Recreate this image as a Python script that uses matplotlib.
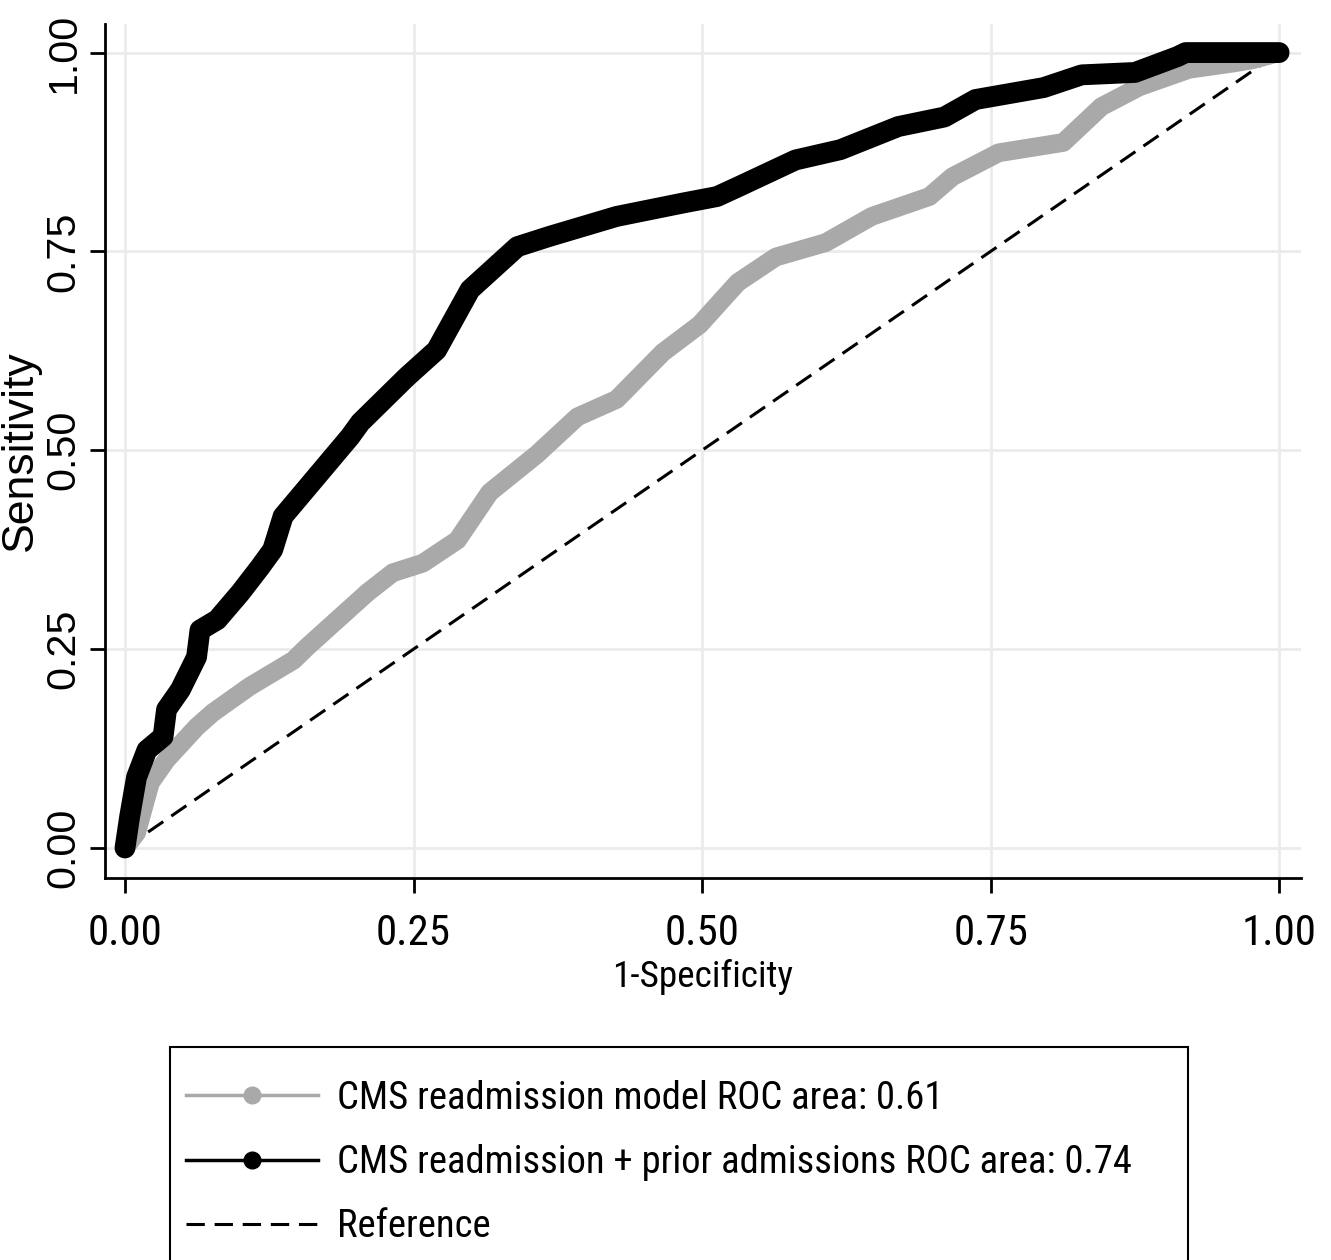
import matplotlib
matplotlib.use("Agg")
import matplotlib.pyplot as plt
from matplotlib import font_manager as fm
from matplotlib.font_manager import FontProperties
from matplotlib.lines import Line2D
from matplotlib.patches import Rectangle

# ROC curve points (1-specificity, sensitivity)
cms_fpr = [0, 0.010, 0.022, 0.036, 0.062, 0.076, 0.108, 0.146, 0.158, 0.210,
           0.232, 0.258, 0.288, 0.316, 0.357, 0.392, 0.426, 0.466, 0.498, 0.531,
           0.564, 0.607, 0.647, 0.697, 0.717, 0.757, 0.813, 0.846, 0.879, 0.922,
           0.961, 0.977, 1.0]
cms_tpr = [0, 0.019, 0.082, 0.111, 0.152, 0.170, 0.203, 0.236, 0.253, 0.321,
           0.346, 0.358, 0.387, 0.447, 0.495, 0.542, 0.564, 0.623, 0.658, 0.711,
           0.743, 0.761, 0.794, 0.819, 0.844, 0.874, 0.887, 0.932, 0.957, 0.979,
           0.987, 0.991, 1.0]

prior_fpr = [0, 0.004, 0.010, 0.019, 0.033, 0.036, 0.048, 0.062, 0.065, 0.080,
             0.100, 0.117, 0.128, 0.137, 0.166, 0.195, 0.204, 0.244, 0.270, 0.299,
             0.340, 0.368, 0.426, 0.484, 0.513, 0.531, 0.581, 0.620, 0.670, 0.710,
             0.737, 0.796, 0.829, 0.875, 0.912, 0.919, 1.0]
prior_tpr = [0, 0.039, 0.089, 0.123, 0.140, 0.174, 0.199, 0.240, 0.274, 0.287,
             0.321, 0.353, 0.375, 0.417, 0.467, 0.517, 0.535, 0.592, 0.626, 0.702,
             0.756, 0.769, 0.794, 0.811, 0.819, 0.831, 0.865, 0.878, 0.907, 0.919,
             0.941, 0.956, 0.972, 0.975, 0.995, 1.0, 1.0]

ref_x = [0, 1]
ref_y = [0, 1]

ticks = [0, 0.25, 0.5, 0.75, 1.0]
tick_labels = ["0.00", "0.25", "0.50", "0.75", "1.00"]

labels = ["CMS readmission model ROC area: 0.61",
          "CMS readmission + prior admissions ROC area: 0.74",
          "Reference"]

GRAY = "#a9a9a9"
DASH = (0, (6, 3.2))
W, H = 1331, 1260


def find_narrow():
    """Pick a condensed sans font file if one is installed."""
    order = ["Liberation Sans Narrow", "Arial Narrow", "Roboto Condensed",
             "Noto Sans", "Open Sans", "DejaVu Sans", "Lato", "Inter"]
    found = []
    for f in fm.fontManager.ttflist:
        name = f.name
        narrowish = ("Narrow" in name or "Condensed" in name
                     or f.stretch in ("condensed", "semi-condensed", 500, 400, 300)
                     and f.stretch != "normal")
        if not narrowish or f.style != "normal":
            continue
        if "Mono" in name or "Serif" in name or "CJK" in name:
            continue
        if f.weight not in (400, "normal", "regular", "Regular"):
            continue
        fn = f.fname.lower()
        if "extracondensed" in fn or "semicondensed" in fn or "ultra" in fn:
            continue
        rank = len(order)
        for i, o in enumerate(order):
            if name.startswith(o):
                rank = i
                break
        found.append((rank, f.fname))
    if found:
        found.sort()
        return FontProperties(fname=found[0][1])
    return FontProperties(family="Liberation Sans")


def fit_size(fig, text, fp, target_px, base=30):
    """Font size that makes text span about target_px pixels."""
    r = fig.canvas.get_renderer()
    p = fp.copy()
    p.set_size(base)
    t = fig.text(0, 0, text, fontproperties=p)
    w = t.get_window_extent(r).width
    t.remove()
    return base * target_px / w


fig = plt.figure(figsize=(W / 100, H / 100), dpi=100)
ax = fig.add_axes([0.0789, 0.3032, 0.8986, 0.6778])

narrow = find_narrow()
regular = FontProperties(family="Liberation Sans")

xt_fp = narrow.copy()
xt_fp.set_size(min(fit_size(fig, "0.00", narrow, 75), 36))
xl_fp = narrow.copy()
xl_fp.set_size(min(fit_size(fig, "1-Specificity", narrow, 181), 34))
leg_fp = narrow.copy()
leg_fp.set_size(min(fit_size(fig, labels[1], narrow, 795), 34))
yt_fp = regular.copy()
yt_fp.set_size(fit_size(fig, "1.00", regular, 80))
yl_fp = regular.copy()
yl_fp.set_size(fit_size(fig, "Sensitivity", regular, 200))

ax.plot(ref_x, ref_y, color="black", lw=2.2, linestyle=DASH, zorder=2)
ax.plot(cms_fpr, cms_tpr, color=GRAY, lw=13.5, solid_capstyle="round",
        solid_joinstyle="round", zorder=3)
ax.plot(prior_fpr, prior_tpr, color="black", lw=15, solid_capstyle="round",
        solid_joinstyle="round", zorder=4)

ax.set_xlim(-0.0173, 1.019)
ax.set_ylim(-0.0377, 1.036)
ax.set_xticks(ticks)
ax.set_yticks(ticks)
ax.set_xticklabels(tick_labels, fontproperties=xt_fp)
ax.set_yticklabels(tick_labels, fontproperties=yt_fp, rotation=90, va="center")
ax.grid(True, color="#ebebeb", lw=2)
ax.set_axisbelow(True)

for side in ["top", "right"]:
    ax.spines[side].set_visible(False)
for side in ["left", "bottom"]:
    ax.spines[side].set_linewidth(2)
ax.tick_params(length=11, width=2, direction="out")
ax.tick_params(axis="x", pad=14)
ax.tick_params(axis="y", pad=5)

ax.set_xlabel("1-Specificity", fontproperties=xl_fp, labelpad=4)
ax.set_ylabel("Sensitivity", fontproperties=yl_fp, va="center")
ax.yaxis.set_label_coords(-0.071, 0.5)

# legend box runs off the bottom of the figure, as in the original
fig.patches.append(Rectangle((170 / W, -0.05), (1188 - 170) / W, (H - 1047) / H + 0.05,
                             transform=fig.transFigure, fill=False,
                             edgecolor="black", lw=1.5, zorder=1))

fs_px = leg_fp.get_size_in_points() * 100 / 72
handles = [
    Line2D([], [], color=GRAY, lw=2.5, marker="o", markersize=12),
    Line2D([], [], color="black", lw=2.5, marker="o", markersize=12),
    Line2D([], [], color="black", lw=2.2, linestyle=DASH),
]
leg = fig.legend(handles, labels, loc="upper left",
                 bbox_to_anchor=(186 / W, 1 - 1080 / H),
                 borderaxespad=0, borderpad=0, frameon=False,
                 handlelength=132 / fs_px, handletextpad=19 / fs_px,
                 labelspacing=0.7, prop=leg_fp)

fig.savefig("out.png", dpi=100)
